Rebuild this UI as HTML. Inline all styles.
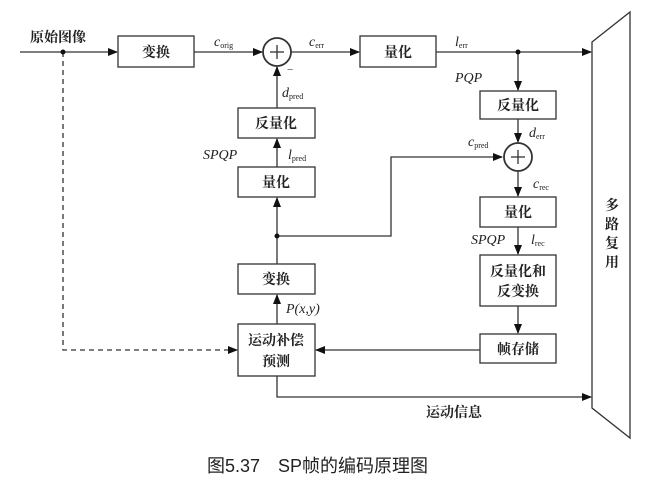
<!DOCTYPE html>
<html><head><meta charset="utf-8"><style>
html,body{margin:0;padding:0;background:#fff;}
svg{display:block}
text{font-family:"Liberation Serif","Noto Serif CJK SC","Noto Sans CJK SC",serif;fill:#222}
.cn{font-family:"Liberation Serif","Noto Serif CJK SC",serif;font-size:14px;font-weight:bold}
.it{font-style:italic;font-size:14px}
.sub{font-size:8px;font-style:normal}
</style></head><body>
<svg width="663" height="484" viewBox="0 0 663 484" xmlns="http://www.w3.org/2000/svg">
<defs><marker id="a" markerWidth="10" markerHeight="8" refX="9" refY="4" orient="auto" markerUnits="userSpaceOnUse"><path d="M0,0 L10,4 L0,8 z" fill="#111"/></marker></defs>
<g stroke="#333" stroke-width="1.3" fill="none">
<line x1="20" y1="52" x2="117" y2="52" marker-end="url(#a)"/>
<rect x="118" y="36" width="76" height="31"/>
<line x1="194" y1="52" x2="262" y2="52" marker-end="url(#a)"/>
<circle cx="277" cy="52" r="14" stroke-width="1.8"/>
<line x1="270" y1="52" x2="284" y2="52"/><line x1="277" y1="45" x2="277" y2="59"/>
<line x1="291" y1="52" x2="359" y2="52" marker-end="url(#a)"/>
<rect x="360" y="36" width="76" height="31"/>
<line x1="436" y1="52" x2="591" y2="52" marker-end="url(#a)"/>
<line x1="277" y1="108" x2="277" y2="67" marker-end="url(#a)"/>
<rect x="238" y="108" width="77" height="30"/>
<line x1="277" y1="167" x2="277" y2="139" marker-end="url(#a)"/>
<rect x="238" y="167" width="77" height="30"/>
<line x1="277" y1="264" x2="277" y2="198" marker-end="url(#a)"/>
<polyline points="277,236 391,236 391,157 502,157" marker-end="url(#a)"/>
<rect x="238" y="264" width="77" height="30"/>
<line x1="277" y1="324" x2="277" y2="295" marker-end="url(#a)"/>
<rect x="238" y="324" width="77" height="52"/>
<polyline points="63,52 63,350 237,350" stroke-dasharray="5,4" marker-end="url(#a)"/>
<polyline points="277,376 277,397 591,397" marker-end="url(#a)"/>
<line x1="480" y1="350" x2="316" y2="350" marker-end="url(#a)"/>
<line x1="518" y1="52" x2="518" y2="90" marker-end="url(#a)"/>
<rect x="480" y="91" width="76" height="28"/>
<line x1="518" y1="119" x2="518" y2="142" marker-end="url(#a)"/>
<circle cx="518" cy="157" r="14" stroke-width="1.8"/>
<line x1="511" y1="157" x2="525" y2="157"/><line x1="518" y1="150" x2="518" y2="164"/>
<line x1="518" y1="171" x2="518" y2="196" marker-end="url(#a)"/>
<rect x="480" y="197" width="76" height="30"/>
<line x1="518" y1="227" x2="518" y2="254" marker-end="url(#a)"/>
<rect x="480" y="255" width="76" height="51"/>
<line x1="518" y1="306" x2="518" y2="333" marker-end="url(#a)"/>
<rect x="480" y="334" width="76" height="29"/>
<polygon points="592,42 630,12 630,438 592,408"/>
</g>
<circle cx="63" cy="52" r="2.5" fill="#111"/>
<circle cx="518" cy="52" r="2.5" fill="#111"/>
<circle cx="277" cy="236" r="2.5" fill="#111"/>
<text class="cn" x="30" y="42">原始图像</text>
<text class="cn" x="156" y="57" text-anchor="middle">变换</text>
<text class="cn" x="398" y="57" text-anchor="middle">量化</text>
<text class="cn" x="276" y="128" text-anchor="middle">反量化</text>
<text class="cn" x="276" y="187" text-anchor="middle">量化</text>
<text class="cn" x="276" y="284" text-anchor="middle">变换</text>
<text class="cn" x="276" y="345" text-anchor="middle">运动补偿</text>
<text class="cn" x="276" y="366" text-anchor="middle">预测</text>
<text class="cn" x="518" y="110" text-anchor="middle">反量化</text>
<text class="cn" x="518" y="217" text-anchor="middle">量化</text>
<text class="cn" x="518" y="276" text-anchor="middle">反量化和</text>
<text class="cn" x="518" y="296" text-anchor="middle">反变换</text>
<text class="cn" x="518" y="354" text-anchor="middle">帧存储</text>
<text class="cn" x="426" y="417">运动信息</text>
<text class="cn" x="605" y="210">多</text>
<text class="cn" x="605" y="229">路</text>
<text class="cn" x="605" y="248">复</text>
<text class="cn" x="605" y="267">用</text>
<text class="it" x="214" y="46">c<tspan class="sub" dy="2">orig</tspan></text>
<text class="it" x="309" y="46">c<tspan class="sub" dy="2">err</tspan></text>
<text x="287" y="73" font-size="11">−</text>
<text class="it" x="282" y="97">d<tspan class="sub" dy="2">pred</tspan></text>
<text class="it" x="203" y="159">SPQP</text>
<text class="it" x="288" y="159">l<tspan class="sub" dy="2">pred</tspan></text>
<text class="it" x="286" y="313">P(x,y)</text>
<text class="it" x="455" y="46">l<tspan class="sub" dy="2">err</tspan></text>
<text class="it" x="455" y="82">PQP</text>
<text class="it" x="529" y="137">d<tspan class="sub" dy="2">err</tspan></text>
<text class="it" x="468" y="146">c<tspan class="sub" dy="2">pred</tspan></text>
<text class="it" x="533" y="188">c<tspan class="sub" dy="2">rec</tspan></text>
<text class="it" x="471" y="244">SPQP</text>
<text class="it" x="531" y="244">l<tspan class="sub" dy="2">rec</tspan></text>
<text x="207" y="472" style="font-family:'Liberation Sans','Noto Sans CJK SC',sans-serif;font-size:18px" fill="#111">图5.37　SP帧的编码原理图</text>
</svg>
</body></html>
